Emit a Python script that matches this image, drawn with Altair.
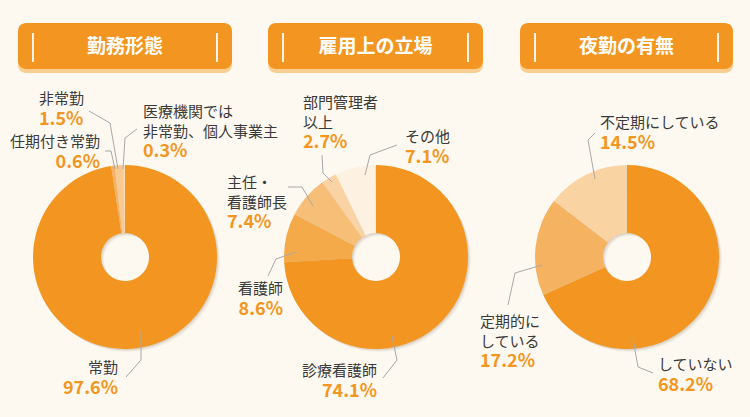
import altair as alt
import pandas as pd

# ---------------- data ----------------
titles = ["勤務形態", "雇用上の立場", "夜勤の有無"]

p1_labels = [["常勤"], ["任期付き常勤"], ["非常勤"], ["医療機関では", "非常勤、個人事業主"]]
p1_values = [97.6, 0.6, 1.5, 0.3]

p2_labels = [["診療看護師"], ["看護師"], ["主任・", "看護師長"], ["部門管理者", "以上"], ["その他"]]
p2_values = [74.1, 8.6, 7.4, 2.7, 7.1]

p3_labels = [["していない"], ["定期的に", "している"], ["不定期にしている"]]
p3_values = [68.2, 17.2, 14.5]

# ---------------- styles / layout ----------------
BG = "#FEF9F0"
ORANGE = "#F39621"
p1_colors = ["#F39621", "#F5B262", "#F8CA91", "#FBDDB6"]
p2_colors = ["#F39621", "#F5AA4A", "#F7BE78", "#F9D3A3", "#FDF1E2"]
p3_colors = ["#F39621", "#F5B260", "#F9D3A1"]

centers_x = [125, 376, 627]
CY = 257
R_OUT, R_IN = 92, 24
boxes_x = [(18, 232), (268, 483), (520, 733)]

# label anchors: (x, y of first line, align)
p1_anchor = [(118, 368, "right"), (100, 142, "right"), (39, 99, "left"), (143, 112, "left")]
p2_anchor = [(377, 371, "right"), (283, 289, "right"), (227, 183, "left"), (303, 103, "left"), (405, 137, "left")]
p3_anchor = [(658, 365, "left"), (480, 322, "left"), (600, 123, "left")]

p1_lead = [[(141, 331), (141, 360), (126, 377)],
           [(105, 151), (111, 151), (115, 169)],
           [(89, 111), (110, 123), (118, 169)],
           [(137, 129), (125, 138), (123, 169)]]
p2_lead = [[(392, 336), (397, 360), (383, 378)],
           [(296, 252), (276, 259), (268, 276)],
           [(288, 187), (302, 187), (313, 206)],
           [(322, 155), (323, 173), (332, 182)],
           [(397, 145), (370, 155), (365, 175)]]
p3_lead = [[(633, 339), (638, 367), (653, 373)],
           [(508, 305), (515, 273), (542, 265)],
           [(595, 133), (588, 140), (595, 179)]]

LINE_H = 19.5
PCT_GAP = 20.5
FONT = "Noto Sans CJK JP"

panels = [
    (p1_labels, p1_values, p1_colors, p1_anchor, p1_lead),
    (p2_labels, p2_values, p2_colors, p2_anchor, p2_lead),
    (p3_labels, p3_values, p3_colors, p3_anchor, p3_lead),
]

xs = alt.Scale(domain=[0, 750], range=[0, 750], nice=False, zero=False)
ys = alt.Scale(domain=[0, 417], range=[0, 417], nice=False, zero=False)

# ---------------- build tables ----------------
arc_rows, text_rows, lead_rows = [], [], []
all_keys, all_colors = [], []
for pi, (labels, values, colors, anchors, leads) in enumerate(panels):
    for i, (lab, v) in enumerate(zip(labels, values)):
        key = f"{pi}-{i}"
        all_keys.append(key)
        all_colors.append(colors[i])
        arc_rows.append({"panel": pi, "key": key, "value": v, "idx": i})
        ax, ay, al = anchors[i]
        for li, line in enumerate(lab):
            text_rows.append({"label": line, "px": ax, "py": ay + li * LINE_H, "side": al, "kind": "label"})
        text_rows.append({"label": f"{v}%", "px": ax, "py": ay + (len(lab) - 1) * LINE_H + PCT_GAP,
                          "side": al, "kind": "pct"})
        for si, (lx, ly) in enumerate(leads[i]):
            lead_rows.append({"lid": key, "seq": si, "px": lx, "py": ly})

arc_df = pd.DataFrame(arc_rows)
text_df = pd.DataFrame(text_rows)
lead_df = pd.DataFrame(lead_rows)
box_df = pd.DataFrame({
    "title": titles,
    "x0": [b[0] for b in boxes_x], "x1": [b[1] for b in boxes_x],
    "cx": [(b[0] + b[1]) / 2 for b in boxes_x],
    "bl": [b[0] + 15 for b in boxes_x], "br": [b[1] - 15 for b in boxes_x],
})

color_scale = alt.Scale(domain=all_keys, range=all_colors)

layers = []

# header boxes (shadow band + box + bars + title)
base_box = alt.Chart(box_df)
layers.append(base_box.mark_rect(cornerRadius=8, color="#F9CE92").encode(
    x=alt.X("x0:Q", scale=xs, axis=None), x2="x1:Q",
    y=alt.Y("y0:Q", scale=ys, axis=None), y2="y1:Q").transform_calculate(y0="27", y1="73"))
layers.append(base_box.mark_rect(cornerRadius=8, color=ORANGE).encode(
    x=alt.X("x0:Q", scale=xs, axis=None), x2="x1:Q",
    y=alt.Y("y0:Q", scale=ys, axis=None), y2="y1:Q").transform_calculate(y0="23", y1="69"))
for bx in ["bl", "br"]:
    layers.append(base_box.mark_rule(color="white", strokeWidth=2, opacity=0.9).encode(
        x=alt.X(f"{bx}:Q", scale=xs, axis=None),
        y=alt.Y("y0:Q", scale=ys, axis=None), y2="y1:Q").transform_calculate(y0="33", y1="62"))
layers.append(base_box.mark_text(font=FONT, fontSize=19, fontWeight="bold", color="white",
                                 baseline="middle", align="center").encode(
    x=alt.X("cx:Q", scale=xs, axis=None), y=alt.Y("yy:Q", scale=ys, axis=None),
    text="title:N").transform_calculate(yy="47"))

# donut shadows + donuts
for pi, cx in enumerate(centers_x):
    for off, op in [(3, 0.06), (2, 0.10), (1, 0.12)]:
        layers.append(alt.Chart(box_df.iloc[[pi]]).mark_arc(
            innerRadius=R_IN, outerRadius=R_OUT, color="#7a6a55", opacity=op).encode(
            theta=alt.value(0), theta2=alt.value(6.2832),
            x=alt.value(cx + off), y=alt.value(CY + off)))
    layers.append(alt.Chart(arc_df[arc_df["panel"] == pi]).mark_arc(
        innerRadius=R_IN, outerRadius=R_OUT).encode(
        theta=alt.Theta("value:Q", stack=True),
        order=alt.Order("idx:Q"),
        color=alt.Color("key:N", scale=color_scale, legend=None),
        x=alt.value(cx), y=alt.value(CY)))

# leader lines
layers.append(alt.Chart(lead_df).mark_line(color="#A8A8A8", strokeWidth=1).encode(
    x=alt.X("px:Q", scale=xs, axis=None), y=alt.Y("py:Q", scale=ys, axis=None),
    detail="lid:N", order="seq:Q"))

# texts
for kind in ["label", "pct"]:
    for al in ["left", "right"]:
        sub = text_df[(text_df["kind"] == kind) & (text_df["side"] == al)]
        if len(sub) == 0:
            continue
        if kind == "label":
            mk = alt.Chart(sub).mark_text(font=FONT, fontSize=15, color="#3A3A3A",
                                          align=al, baseline="middle")
        else:
            mk = alt.Chart(sub).mark_text(font=FONT, fontSize=18, fontWeight="bold", color=ORANGE,
                                          align=al, baseline="middle")
        layers.append(mk.encode(x=alt.X("px:Q", scale=xs, axis=None),
                                y=alt.Y("py:Q", scale=ys, axis=None), text="label:N"))

chart = alt.layer(*layers).properties(
    width=750, height=417, background=BG, padding=0,
    autosize=alt.AutoSizeParams(type="none"),
).configure_view(stroke=None)

chart.save("out.html", embed_options={"renderer": "svg", "actions": False})
